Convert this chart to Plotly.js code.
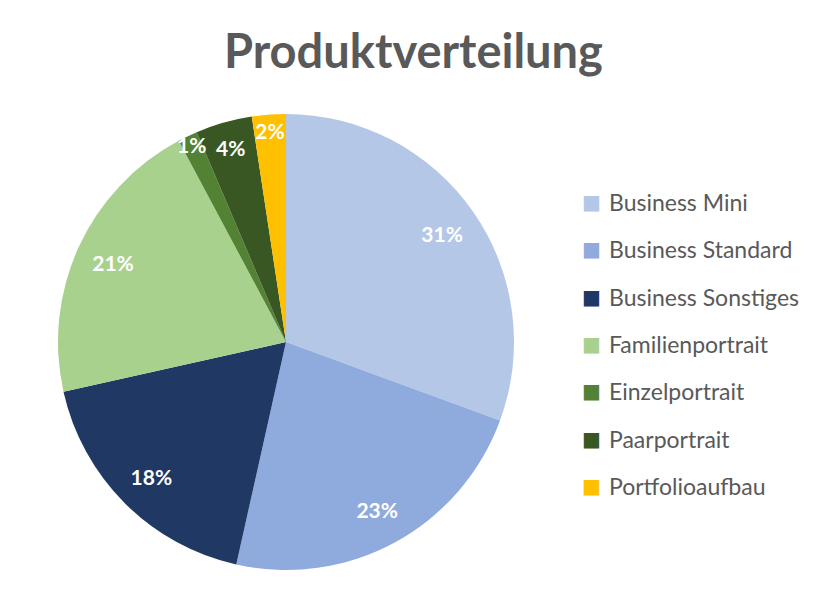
<!DOCTYPE html>
<html>
<head>
<meta charset="utf-8">
<script src="https://cdn.plot.ly/plotly-3.0.1.min.js"></script>
<style>html,body{margin:0;padding:0;background:#fff}#chart{width:827px;height:596px}</style>
</head>
<body>
<div id="chart"></div>
<script>
const categories = ["Business Mini","Business Standard","Business Sonstiges","Familienportrait","Einzelportrait","Paarportrait","Portfolioaufbau"];
const shares = [30.6, 22.9, 18.0, 20.7, 1.4, 4.0, 2.4];
const colors = ["#B4C7E7","#8FAADC","#203864","#A9D18E","#548235","#385723","#FFC000"];
const titleText = "Produktverteilung";

const FONT = "Lato, 'Open Sans', sans-serif";
const pieDomain = {x: [58/827, 514/827], y: [1-570/596, 1-114/596]};

const legendAnnotations = [];
categories.forEach((c, i) => {
  const y = 1 - (202 + i*47.3)/596;
  legendAnnotations.push({
    xref: "paper", yref: "paper", x: 591/827, y: y,
    xanchor: "center", yanchor: "middle", showarrow: false,
    text: "■", font: {family: "DejaVu Sans", size: 20, color: colors[i]}
  });
  legendAnnotations.push({
    xref: "paper", yref: "paper", x: 607/827, y: y,
    xanchor: "left", yanchor: "middle", showarrow: false,
    text: c, font: {family: FONT, size: 23, color: "#595959"}
  });
});

const data = [{
  type: "pie",
  labels: categories,
  values: shares,
  sort: false,
  direction: "clockwise",
  rotation: 0,
  marker: {colors: colors, line: {width: 0}},
  textinfo: "none",
  hoverinfo: "label+percent",
  domain: pieDomain,
  showlegend: false
}, {
  type: "pie",
  labels: categories,
  values: shares,
  sort: false,
  direction: "clockwise",
  rotation: 0,
  hole: 0.67,
  marker: {colors: categories.map(() => "rgba(0,0,0,0)"), line: {width: 0}},
  texttemplate: "%{percent:.0%}",
  textposition: "inside",
  insidetextorientation: "horizontal",
  textfont: {family: FONT, size: 21, color: "#ffffff", weight: "bold"},
  hoverinfo: "skip",
  domain: pieDomain,
  showlegend: false
}];

const layout = {
  width: 827, height: 596,
  margin: {l: 0, r: 0, t: 0, b: 0},
  paper_bgcolor: "#ffffff",
  title: {text: "<b>" + titleText + "</b>", x: 0.5, xanchor: "center", y: 1 - 52/596, yanchor: "middle",
          font: {family: FONT, size: 47, color: "#595959"}},
  uniformtext: {minsize: 21, mode: "show"},
  annotations: legendAnnotations
};

Plotly.newPlot("chart", data, layout, {displayModeBar: false, staticPlot: true});
</script>
</body>
</html>
